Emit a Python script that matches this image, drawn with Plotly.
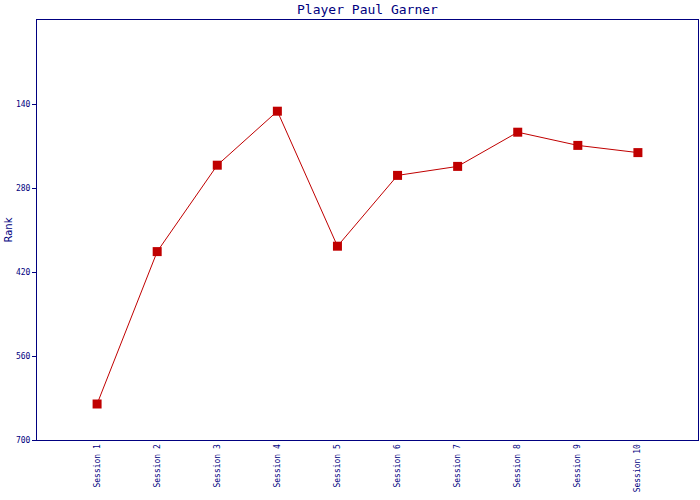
import plotly.graph_objects as go

sessions = ["Session 1", "Session 2", "Session 3", "Session 4", "Session 5",
            "Session 6", "Session 7", "Session 8", "Session 9", "Session 10"]
positions = [1, 2, 3, 4, 5, 6, 7, 8, 9, 10]
ranks = [640, 386, 242, 152, 377, 259, 244, 187, 209, 221]
y_ticks = [140, 280, 420, 560, 700]

navy = "#000080"
red = "#c00000"
mono = "DejaVu Sans Mono"

fig = go.Figure()
fig.add_trace(go.Scatter(
    x=positions, y=ranks, mode="lines+markers",
    line=dict(color=red, width=1),
    marker=dict(symbol="square", size=9, color=red),
    showlegend=False,
))

fig.update_layout(
    width=700, height=500,
    autosize=False,
    margin=dict(l=37, r=2, t=20, b=60, autoexpand=False),
    paper_bgcolor="white", plot_bgcolor="white",
    title=dict(text="Player Paul Garner", x=0.5, xanchor="center", xref="paper",
               y=1 - 9 / 500, yanchor="middle", yref="container",
               font=dict(family=mono, size=13, color=navy)),
    xaxis=dict(range=[0, 11], tickmode="array", tickvals=positions,
               ticktext=sessions, tickangle=-90, showgrid=False, automargin=False,
               zeroline=False, showline=True, linecolor=navy, linewidth=1,
               mirror=True, ticks="", tickfont=dict(family=mono, size=8, color=navy)),
    yaxis=dict(range=[700, 0], tickmode="array", tickvals=y_ticks, automargin=False,
               showgrid=False, zeroline=False, showline=True, linecolor=navy,
               linewidth=1, mirror=True, ticks="outside", ticklen=4,
               tickcolor=navy,
               tickfont=dict(family=mono, size=8, color=navy),
               title=dict(text="Rank", standoff=1,
                          font=dict(family="DejaVu Sans", size=10, color=navy))),
)

fig.write_html("out.html", config={"responsive": False, "displayModeBar": False},
               post_script="document.body.style.margin='0';document.body.style.overflow='hidden';")
